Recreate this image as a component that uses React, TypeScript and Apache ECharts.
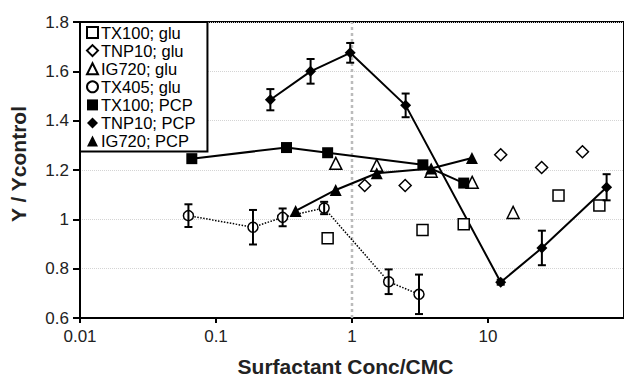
import React, { useEffect, useRef } from 'react';
import * as echarts from 'echarts';

// ---- data ----
const X_MIN = 0.01;
const X_MAX = 100;
const Y_MIN = 0.6;
const Y_MAX = 1.8;
const Y_STEP = 0.2;
const CMC_LINE = 1;

const tx100GluX = [0.662, 3.3, 6.63, 33.0, 65.9];
const tx100GluY = [0.923, 0.957, 0.98, 1.097, 1.056];

const tnp10GluX = [1.24, 2.46, 12.4, 24.8, 49.5];
const tnp10GluY = [1.137, 1.137, 1.262, 1.21, 1.274];

const ig720GluX = [0.76, 1.52, 3.82, 7.65, 15.3];
const ig720GluY = [1.227, 1.219, 1.195, 1.15, 1.028];

const tx405GluX = [0.0627, 0.187, 0.309, 0.624, 1.86, 3.11];
const tx405GluY = [1.015, 0.968, 1.008, 1.046, 0.747, 0.696];
const tx405GluErr = [0.046, 0.07, 0.036, 0.025, 0.05, 0.08];

const tx100PcpX = [0.0664, 0.33, 0.662, 3.32, 6.63];
const tx100PcpY = [1.246, 1.291, 1.27, 1.221, 1.147];

const tnp10PcpX = [0.251, 0.496, 0.97, 2.48, 12.4, 24.9, 74.5];
const tnp10PcpY = [1.485, 1.6, 1.675, 1.462, 0.745, 0.884, 1.13];
const tnp10PcpErr = [0.043, 0.05, 0.04, 0.048, 0.01, 0.07, 0.053];

const ig720PcpX = [0.385, 0.759, 1.52, 3.82, 7.62];
const ig720PcpY = [1.034, 1.119, 1.187, 1.206, 1.249];

const NAMES = [
  'TX100; glu',
  'TNP10; glu',
  'IG720; glu',
  'TX405; glu',
  'TX100; PCP',
  'TNP10; PCP',
  'IG720; PCP',
];

const zip = (xs: number[], ys: number[]) => xs.map((x, i) => [x, ys[i]]);
const zip3 = (xs: number[], ys: number[], es: number[]) => xs.map((x, i) => [x, ys[i], es[i]]);

const FONT = '"Liberation Sans", Arial, Helvetica, sans-serif';

const errRender = (params: any, api: any) => {
  const x = api.value(0);
  const y = api.value(1);
  const e = api.value(2);
  const top = api.coord([x, y + e]);
  const bot = api.coord([x, y - e]);
  const c = 4;
  const style = { stroke: '#000', lineWidth: 2 };
  return {
    type: 'group',
    children: [
      { type: 'line', shape: { x1: top[0], y1: top[1], x2: bot[0], y2: bot[1] }, style },
      { type: 'line', shape: { x1: top[0] - c, y1: top[1], x2: top[0] + c, y2: top[1] }, style },
      { type: 'line', shape: { x1: bot[0] - c, y1: bot[1], x2: bot[0] + c, y2: bot[1] }, style },
    ],
  };
};

const openStyle = { color: '#fff', borderColor: '#000', borderWidth: 1.5, opacity: 1 };
const filledStyle = { color: '#000', borderColor: '#000', borderWidth: 0, opacity: 1 };

export default function App() {
  const ref = useRef<HTMLDivElement>(null);

  useEffect(() => {
    if (!ref.current) return;
    const chart = echarts.init(ref.current, undefined, { renderer: 'svg' });
    const option: any = {
      animation: false,
      backgroundColor: '#fff',
      textStyle: { fontFamily: FONT },
      grid: {
        left: 80,
        top: 22,
        right: -3,
        bottom: 59,
        show: true,
        borderColor: '#000',
        borderWidth: 2,
        backgroundColor: 'transparent',
      },
      legend: {
        orient: 'vertical',
        left: 80,
        top: 22,
        itemWidth: 11,
        itemHeight: 11,
        itemGap: 1.1,
        padding: [2, 12, 2, 6],
        borderColor: '#000',
        borderWidth: 2,
        backgroundColor: '#fff',
        selectedMode: false,
        textStyle: {
          fontSize: 16.5,
          color: '#000',
          fontFamily: FONT,
          padding: [0, 0, 0, -2],
        },
        data: [
          { name: NAMES[0], icon: 'rect' },
          { name: NAMES[1], icon: 'diamond' },
          { name: NAMES[2], icon: 'triangle' },
          { name: NAMES[3], icon: 'circle' },
          { name: NAMES[4], icon: 'rect' },
          { name: NAMES[5], icon: 'diamond' },
          { name: NAMES[6], icon: 'triangle' },
        ],
        z: 10,
      },
      xAxis: {
        type: 'log',
        logBase: 10,
        min: X_MIN,
        max: X_MAX,
        name: 'Surfactant Conc/CMC',
        nameLocation: 'middle',
        nameGap: 38,
        nameTextStyle: {
          fontSize: 21,
          fontWeight: 'bold',
          color: '#222',
          fontFamily: FONT,
          padding: [0, 13, 0, 0],
        },
        axisLine: { show: true, onZero: false, lineStyle: { color: '#000', width: 2 } },
        axisTick: { show: true, inside: false, length: 5, lineStyle: { color: '#000', width: 2 } },
        minorTick: { show: false },
        axisLabel: { fontSize: 17, color: '#222', margin: 10, showMaxLabel: false, fontFamily: FONT },
        splitLine: { show: false },
      },
      yAxis: {
        type: 'value',
        min: Y_MIN,
        max: Y_MAX,
        interval: Y_STEP,
        name: 'Y / Ycontrol',
        nameLocation: 'middle',
        nameGap: 51,
        nameRotate: 90,
        nameTextStyle: {
          fontSize: 21,
          fontWeight: 'bold',
          color: '#222',
          fontFamily: FONT,
          padding: [0, 0, 0, 12],
        },
        axisLine: { show: true, lineStyle: { color: '#000', width: 2 } },
        axisTick: { show: true, inside: false, length: 7, lineStyle: { color: '#000', width: 2 } },
        axisLabel: {
          fontSize: 17,
          color: '#222',
          margin: 11,
          fontFamily: FONT,
          formatter: (v: number) => String(Math.round(v * 10) / 10),
        },
        splitLine: { show: true, lineStyle: { color: '#d4d4d4', type: 'dotted', width: 1 } },
      },
      series: [
        {
          name: 'cmc',
          type: 'line',
          data: [
            [CMC_LINE, Y_MIN],
            [CMC_LINE, Y_MAX],
          ],
          symbol: 'none',
          silent: true,
          z: 1,
          lineStyle: { color: '#bbbbbb', width: 2.5, type: [3, 3] },
        },
        {
          name: NAMES[0],
          type: 'scatter',
          data: zip(tx100GluX, tx100GluY),
          symbol: 'rect',
          symbolSize: 11,
          itemStyle: openStyle,
          z: 3,
        },
        {
          name: NAMES[1],
          type: 'scatter',
          data: zip(tnp10GluX, tnp10GluY),
          symbol: 'diamond',
          symbolSize: 12,
          itemStyle: openStyle,
          z: 3,
        },
        {
          name: NAMES[2],
          type: 'scatter',
          data: zip(ig720GluX, ig720GluY),
          symbol: 'triangle',
          symbolSize: 12,
          itemStyle: openStyle,
          z: 3,
        },
        {
          name: NAMES[3],
          type: 'line',
          data: zip(tx405GluX, tx405GluY),
          symbol: 'circle',
          symbolSize: 10,
          showAllSymbol: true,
          itemStyle: openStyle,
          lineStyle: { color: '#000', width: 1.5, type: 'dotted' },
          z: 3,
        },
        {
          name: NAMES[4],
          type: 'line',
          data: zip(tx100PcpX, tx100PcpY),
          symbol: 'rect',
          symbolSize: 11,
          showAllSymbol: true,
          itemStyle: filledStyle,
          lineStyle: { color: '#000', width: 2 },
          z: 3,
        },
        {
          name: NAMES[5],
          type: 'line',
          data: zip(tnp10PcpX, tnp10PcpY),
          symbol: 'diamond',
          symbolSize: 11,
          showAllSymbol: true,
          itemStyle: filledStyle,
          lineStyle: { color: '#000', width: 2 },
          z: 3,
        },
        {
          name: NAMES[6],
          type: 'line',
          data: zip(ig720PcpX, ig720PcpY),
          symbol: 'triangle',
          symbolSize: 12,
          showAllSymbol: true,
          itemStyle: filledStyle,
          lineStyle: { color: '#000', width: 2 },
          z: 3,
        },
        {
          name: 'tx405err',
          type: 'custom',
          renderItem: errRender,
          data: zip3(tx405GluX, tx405GluY, tx405GluErr),
          encode: { x: 0, y: 1 },
          silent: true,
          z: 4,
        },
        {
          name: 'tnp10err',
          type: 'custom',
          renderItem: errRender,
          data: zip3(tnp10PcpX, tnp10PcpY, tnp10PcpErr),
          encode: { x: 0, y: 1 },
          silent: true,
          z: 4,
        },
      ],
    };
    chart.setOption(option);
    return () => chart.dispose();
  }, []);

  return (
    <div
      ref={ref}
      style={{ position: 'absolute', left: 0, top: 0, width: 624, height: 382, background: '#fff' }}
    />
  );
}
